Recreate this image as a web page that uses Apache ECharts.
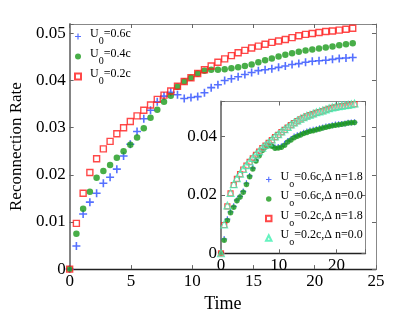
<!DOCTYPE html>
<html><head><meta charset="utf-8">
<script src="https://cdn.jsdelivr.net/npm/echarts@6/dist/echarts.min.js"></script>
<style>html,body{margin:0;padding:0;background:#fff}#c{width:415px;height:318px}</style>
</head><body><div id="c"></div>
<script>
// ---- data ----
var times = [0,0.55,1.1,1.65,2.2,2.75,3.3,3.85,4.4,4.95,5.5,6.05,6.6,7.15,7.7,8.25,8.8,9.35,9.9,10.45,11,11.55,12.1,12.65,13.2,13.75,14.3,14.85,15.4,15.95,16.5,17.05,17.6,18.15,18.7,19.25,19.8,20.35,20.9,21.45,22,22.55,23.1];
var rateU06 = [0,0.0049,0.0117,0.0142,0.0161,0.0182,0.0195,0.0212,0.0240,0.0265,0.0292,0.0319,0.0337,0.0355,0.0367,0.0375,0.0370,0.0362,0.0364,0.0366,0.0374,0.0385,0.0391,0.0400,0.0404,0.0408,0.0413,0.0417,0.0421,0.0423,0.0425,0.0428,0.0431,0.0434,0.0436,0.0439,0.0441,0.0442,0.0443,0.0445,0.0447,0.0448,0.0449];
var rateU04 = [0,0.0075,0.0128,0.0164,0.0194,0.0208,0.0221,0.0236,0.0250,0.0264,0.0279,0.0299,0.0321,0.0338,0.0355,0.0368,0.0387,0.0398,0.0406,0.0415,0.0421,0.0423,0.0423,0.0424,0.0426,0.0428,0.0431,0.0434,0.0439,0.0443,0.0447,0.0451,0.0455,0.0458,0.0461,0.0464,0.0466,0.0468,0.0470,0.0472,0.0475,0.0477,0.0479];
var rateU02 = [0,0.0097,0.0161,0.0205,0.0234,0.0255,0.0271,0.0287,0.0300,0.0313,0.0325,0.0337,0.0348,0.0360,0.0369,0.0378,0.0388,0.0398,0.0406,0.0415,0.0423,0.0431,0.0439,0.0446,0.0453,0.0459,0.0464,0.0469,0.0473,0.0477,0.0481,0.0484,0.0487,0.0491,0.0495,0.0498,0.0500,0.0502,0.0504,0.0505,0.0507,0.0509,0.0511];
// inset: Delta n = 1.8 runs are the main U0=0.6c and U0=0.2c runs
var rateU06dn18 = rateU06;
var rateU06dn00 = [0,0.0045,0.0112,0.0139,0.0158,0.0180,0.0193,0.0209,0.0236,0.0262,0.0289,0.0316,0.0334,0.0352,0.0364,0.0371,0.0367,0.0360,0.0361,0.0363,0.0370,0.0381,0.0388,0.0396,0.0401,0.0405,0.0410,0.0414,0.0418,0.0420,0.0423,0.0426,0.0429,0.0432,0.0434,0.0437,0.0439,0.0440,0.0442,0.0444,0.0446,0.0447,0.0448];
var rateU02dn18 = rateU02;
var rateU02dn00 = [0,0.0099,0.0164,0.0207,0.0237,0.0257,0.0273,0.0289,0.0302,0.0315,0.0327,0.0339,0.0350,0.0362,0.0371,0.0380,0.0390,0.0400,0.0408,0.0417,0.0425,0.0433,0.0441,0.0448,0.0455,0.0461,0.0466,0.0471,0.0475,0.0479,0.0483,0.0486,0.0489,0.0493,0.0497,0.0500,0.0502,0.0504,0.0506,0.0507,0.0509,0.0511,0.0513];
var mainXTicks = [0,5,10,15,20,25];
var mainYTicks = [0,0.01,0.02,0.03,0.04,0.05];
var insetXTicks = [0,10,20];
var insetYTicks = [0,0.02,0.04];

function pairs(ys){ return ys.map(function(y,i){ return [times[i], y]; }); }

var SERIF = 'Liberation Serif';
var PLUS = 'path://M4,0 L6,0 L6,4 L10,4 L10,6 L6,6 L6,10 L4,10 L4,6 L0,6 L0,4 L4,4 Z';
var BLUE = '#2a4cff', GREEN = '#1a9a1a', RED = '#ff1a1a', CYAN = '#3ff0b0';

function fmtTicks(list, digits){
  return function(v){
    for (var i=0;i<list.length;i++){ if (Math.abs(list[i]-v) < 1e-9) return v===0 ? '0' : v.toFixed(digits); }
    return '';
  };
}
function xAx(grid, pos, show, ticks, interval, extra){
  var a = {type:'value', gridIndex:grid, position:pos, min:0, max:25, interval:interval,
    axisLine:{show:true, onZero:false, lineStyle:{color: pos==='bottom' ? '#222' : '#888', width: pos==='bottom'?1.3:1}},
    axisTick:{show:true, inside:true, length:4, lineStyle:{color:'#666'}},
    axisLabel:{show:show, margin:4, color:'#000', fontFamily:SERIF, fontSize:17, formatter:fmtTicks(ticks,0)},
    splitLine:{show:false}};
  for (var k in extra) a[k] = extra[k];
  return a;
}
function yAx(grid, pos, show, ticks, interval, extra){
  var a = {type:'value', gridIndex:grid, position:pos, min:0, max:0.052, interval:interval,
    axisLine:{show:true, onZero:false, lineStyle:{color: pos==='left' ? '#777' : '#888', width: pos==='left'?1.8:1}},
    axisTick:{show:true, inside:true, length:4, lineStyle:{color:'#666'}},
    axisLabel:{show:show, margin:4, color:'#000', fontFamily:SERIF, fontSize:17, formatter:fmtTicks(ticks,2)},
    splitLine:{show:false}};
  for (var k in extra) a[k] = extra[k];
  return a;
}

var rich = {
  u:{fontFamily:SERIF, fontSize:12, color:'#000', lineHeight:12, padding:[0,0,6,4]},
  n:{fontFamily:SERIF, fontSize:12, color:'#000', lineHeight:12, padding:[0,0,6,0]},
  s:{fontFamily:SERIF, fontSize:10, color:'#000', lineHeight:9, padding:[9,0,0,0]}
};
var mainLabels = {'U0=0.6c':'{u|U}{s|0}{n|=0.6c}', 'U0=0.4c':'{u|U}{s|0}{n|=0.4c}', 'U0=0.2c':'{u|U}{s|0}{n|=0.2c}'};
var insetLabels = {
  'a':'{u|U}{s|o}{n|=0.6c,\u0394 n=1.8}',
  'b':'{u|U}{s|o}{n|=0.6c,\u0394 n=0.0}',
  'c':'{u|U}{s|o}{n|=0.2c,\u0394 n=1.8}',
  'd':'{u|U}{s|o}{n|=0.2c,\u0394 n=0.0}'
};

var chart = echarts.init(document.getElementById('c'), null, {renderer:'canvas'});
chart.setOption({
  animation:false,
  backgroundColor:'#fff',
  grid:[
    {left:60, top:24, right:39, bottom:41},
    {left:221, top:101.5, right:49.5, bottom:64.7, show:true, backgroundColor:'#fff', borderWidth:0, z:3}
  ],
  xAxis:[
    xAx(0,'bottom',true,mainXTicks,5,{name:'Time', nameLocation:'middle', nameGap:21, nameTextStyle:{fontFamily:SERIF, fontSize:18, color:'#000'}}),
    xAx(0,'top',false,mainXTicks,5,{}),
    xAx(1,'bottom',true,insetXTicks,10,{z:4}),
    xAx(1,'top',false,insetXTicks,10,{z:4})
  ],
  yAxis:[
    yAx(0,'left',true,mainYTicks,0.01,{name:'Reconnection Rate', nameLocation:'middle', nameGap:36, nameTextStyle:{fontFamily:SERIF, fontSize:17, color:'#000'}}),
    yAx(0,'right',false,mainYTicks,0.01,{}),
    yAx(1,'left',true,insetYTicks,0.02,{z:4}),
    yAx(1,'right',false,insetYTicks,0.02,{z:4})
  ],
  legend:[
    {data:['U0=0.6c','U0=0.4c','U0=0.2c'], orient:'vertical', left:69, top:22, itemWidth:6, itemHeight:6, itemGap:1,
     formatter:function(n){return mainLabels[n];}, textStyle:{rich:rich}},
    {data:['a','b','c','d'], orient:'vertical', left:260, top:165, itemWidth:5.5, itemHeight:5.5, itemGap:0.5, z:5,
     formatter:function(n){return insetLabels[n];}, textStyle:{rich:rich}}
  ],
  series:[
    {name:'U0=0.6c', type:'scatter', xAxisIndex:0, yAxisIndex:0, symbol:PLUS, symbolSize:8, itemStyle:{color:BLUE}, data:pairs(rateU06)},
    {name:'U0=0.4c', type:'scatter', xAxisIndex:0, yAxisIndex:0, symbol:'circle', symbolSize:6.5, itemStyle:{color:GREEN}, data:pairs(rateU04)},
    {name:'U0=0.2c', type:'scatter', xAxisIndex:0, yAxisIndex:0, symbol:'rect', symbolSize:6, itemStyle:{color:'rgba(255,255,255,0)', borderColor:RED, borderWidth:1.4}, data:pairs(rateU02)},
    {name:'a', type:'scatter', xAxisIndex:2, yAxisIndex:2, z:6, symbol:PLUS, symbolSize:6, itemStyle:{color:BLUE}, data:pairs(rateU06dn18)},
    {name:'b', type:'scatter', xAxisIndex:2, yAxisIndex:2, z:6, symbol:'circle', symbolSize:5.5, itemStyle:{color:GREEN}, data:pairs(rateU06dn00)},
    {name:'c', type:'scatter', xAxisIndex:2, yAxisIndex:2, z:6, symbol:'rect', symbolSize:5, itemStyle:{color:'rgba(255,255,255,0)', borderColor:RED, borderWidth:1.2}, data:pairs(rateU02dn18)},
    {name:'d', type:'scatter', xAxisIndex:2, yAxisIndex:2, z:6, symbol:'triangle', symbolSize:7, itemStyle:{color:'rgba(255,255,255,0.3)', borderColor:CYAN, borderWidth:1.1}, data:pairs(rateU02dn00)}
  ]
});
</script></body></html>
